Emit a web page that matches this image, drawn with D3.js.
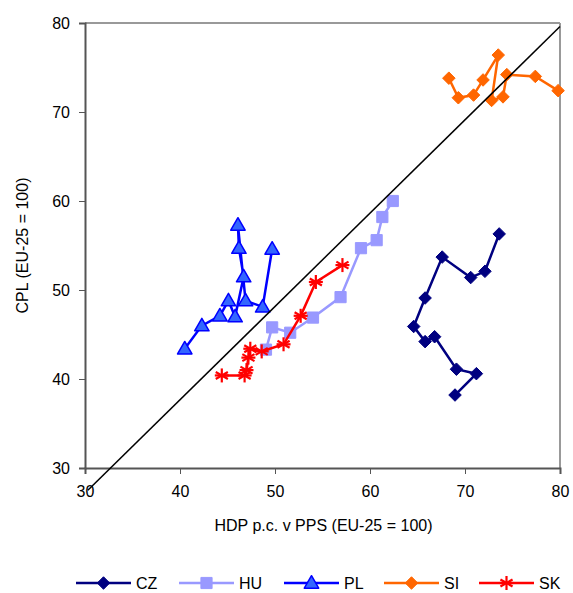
<!DOCTYPE html>
<html>
<head>
<meta charset="utf-8">
<script src="https://cdn.jsdelivr.net/npm/d3@7/dist/d3.min.js"></script>
<style>
  html, body { margin: 0; padding: 0; background: #fff; }
  svg { display: block; font-family: "Liberation Sans", Arial, sans-serif; }
</style>
</head>
<body>
<div id="chart"></div>
<script>
// Data (x = HDP p.c. v PPS, y = CPL; both EU-25 = 100)
const czX = [68.95, 71.2, 69.1, 66.8, 65.8, 64.6, 65.8, 67.6, 70.6, 72.1, 73.6];
const czY = [38.2, 40.6, 41.1, 44.75, 44.2, 45.9, 49.1, 53.7, 51.4, 52.1, 56.3];

const huX = [49.05, 49.7, 51.6, 54.0, 56.9, 59.05, 60.7, 61.3, 62.4];
const huY = [43.3, 45.8, 45.2, 46.9, 49.2, 54.7, 55.6, 58.2, 60.0];

const plX = [40.5, 42.3, 44.2, 45.1, 45.8, 46.7, 46.2, 46.1, 46.9, 48.7, 49.7];
const plY = [43.4, 46.0, 47.1, 48.8, 47.0, 51.5, 54.7, 57.3, 48.8, 48.1, 54.6];

const siX = [68.3, 69.3, 70.9, 71.9, 73.5, 72.8, 74.0, 74.4, 77.4, 79.8];
const siY = [73.8, 71.6, 71.9, 73.6, 76.4, 71.3, 71.7, 74.2, 74.0, 72.4];

const skX = [44.4, 46.8, 47.0, 47.2, 47.4, 48.6, 50.9, 52.7, 54.3, 57.1];
const skY = [40.4, 40.4, 41.0, 42.4, 43.4, 43.1, 43.9, 47.1, 50.9, 52.8];

const diagX = [30.3, 80];
const diagY = [27.5, 79.6];

const xTicks = [30, 40, 50, 60, 70, 80];
const yTicks = [30, 40, 50, 60, 70, 80];

const series = [
    { name: 'CZ', xs: czX, ys: czY, color: '#000080', fill: '#000080', marker: 'diamond' },
    { name: 'HU', xs: huX, ys: huY, color: '#9999FF', fill: '#9999FF', marker: 'square' },
    { name: 'PL', xs: plX, ys: plY, color: '#0000FF', fill: '#3366FF', marker: 'triangle' },
    { name: 'SI', xs: siX, ys: siY, color: '#FF6600', fill: '#FF6600', marker: 'diamond' },
    { name: 'SK', xs: skX, ys: skY, color: '#FF0000', fill: '#FF0000', marker: 'star' },
];

const W = 573, H = 593;
const margin = { left: 85, right: 13, top: 23, bottom: 125 };
const FONT = '16px';

const svg = d3.select('#chart').append('svg')
    .attr('width', W).attr('height', H);

const x = d3.scaleLinear().domain([30, 80]).range([margin.left, W - margin.right]);
const y = d3.scaleLinear().domain([30, 80]).range([H - margin.bottom, margin.top]);

// plot frame: top/right light, axes dark
svg.append('line')
    .attr('x1', x(30)).attr('x2', x(80)).attr('y1', y(80)).attr('y2', y(80))
    .attr('stroke', '#999').attr('stroke-width', 2);
svg.append('line')
    .attr('x1', x(80)).attr('x2', x(80)).attr('y1', y(80)).attr('y2', y(30))
    .attr('stroke', '#999').attr('stroke-width', 2);

const xAxis = svg.append('g')
    .attr('transform', `translate(0,${y(30)})`)
    .call(d3.axisBottom(x).tickValues(xTicks).tickSize(6).tickPadding(12));
const yAxis = svg.append('g')
    .attr('transform', `translate(${x(30)},0)`)
    .call(d3.axisLeft(y).tickValues(yTicks).tickSize(6).tickPadding(9));

[xAxis, yAxis].forEach((g) => {
    g.select('.domain').attr('stroke', '#555').attr('stroke-width', 2);
    g.selectAll('.tick line').attr('stroke', '#555').attr('stroke-width', 1);
    g.selectAll('.tick text')
        .attr('fill', '#000')
        .attr('font-size', FONT)
        .attr('font-family', '"Liberation Sans", Arial, sans-serif');
});

svg.append('text')
    .attr('x', (x(30) + x(80)) / 2 + 1)
    .attr('y', 531)
    .attr('text-anchor', 'middle')
    .attr('font-size', FONT)
    .text('HDP p.c. v PPS (EU-25 = 100)');

svg.append('text')
    .attr('transform', `translate(28,${(y(30) + y(80)) / 2}) rotate(-90)`)
    .attr('text-anchor', 'middle')
    .attr('font-size', FONT)
    .text('CPL (EU-25 = 100)');

function markerPath(kind) {
    if (kind === 'diamond') return d3.symbol(d3.symbolDiamond2, 100)();
    if (kind === 'square') return d3.symbol(d3.symbolSquare, 125)();
    if (kind === 'triangle') return d3.symbol(d3.symbolTriangle, 90)();
    return null;
}

function drawMarker(g, s, cx, cy) {
    if (s.marker === 'star') {
        const r = 7;
        const star = g.append('g').attr('transform', `translate(${cx},${cy})`);
        [0, 60, 120].forEach((a) => {
            const rad = a * Math.PI / 180;
            star.append('line')
                .attr('x1', -r * Math.sin(rad)).attr('y1', -r * Math.cos(rad))
                .attr('x2', r * Math.sin(rad)).attr('y2', r * Math.cos(rad))
                .attr('stroke', s.color).attr('stroke-width', 2.2);
        });
        star.append('line')
            .attr('x1', -r).attr('x2', r).attr('y1', 0).attr('y2', 0)
            .attr('stroke', s.color).attr('stroke-width', 2.2);
        return;
    }
    g.append('path')
        .attr('d', markerPath(s.marker))
        .attr('transform', `translate(${cx},${cy + (s.marker === 'triangle' ? 1 : 0)})`)
        .attr('fill', s.fill)
        .attr('stroke', s.color)
        .attr('stroke-width', s.marker === 'triangle' ? 1.5 : 1)
        .attr('stroke-linejoin', 'round');
}

const line = d3.line().x((d) => x(d[0])).y((d) => y(d[1]));

series.forEach((s) => {
    const pts = s.xs.map((v, i) => [v, s.ys[i]]);
    const g = svg.append('g').attr('class', `series-${s.name}`);
    g.append('path')
        .attr('d', line(pts))
        .attr('fill', 'none')
        .attr('stroke', s.color)
        .attr('stroke-width', 2.5);
    pts.forEach((p) => drawMarker(g, s, x(p[0]), y(p[1])));
});

// diagonal reference line, drawn on top (extends below the x axis as in the original)
svg.append('line')
    .attr('x1', x(diagX[0])).attr('y1', y(diagY[0]))
    .attr('x2', x(diagX[1])).attr('y2', y(diagY[1]))
    .attr('stroke', '#000').attr('stroke-width', 1.5);

// legend
const legendX = [76, 179, 284, 384, 479];
const legendY = 583;
series.forEach((s, i) => {
    const g = svg.append('g');
    const lx = legendX[i];
    g.append('line')
        .attr('x1', lx).attr('x2', lx + 55)
        .attr('y1', legendY).attr('y2', legendY)
        .attr('stroke', s.color).attr('stroke-width', 2.5);
    drawMarker(g, s, lx + 27.5, legendY);
    g.append('text')
        .attr('x', lx + 60).attr('y', legendY + 6)
        .attr('font-size', FONT)
        .text(s.name);
});
</script>
</body>
</html>
